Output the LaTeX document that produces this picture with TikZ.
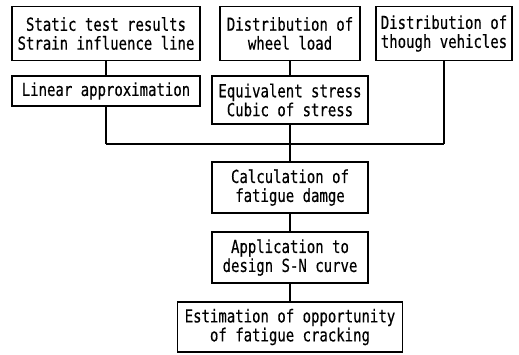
\documentclass[tikz,border=0pt]{standalone}
\usepackage{fontspec}
\setmonofont[FakeStretch=0.78,FakeBold=0.4]{DejaVu Sans Mono}
\begin{document}
\begin{tikzpicture}[x=1bp,y=-1bp,
  box/.style={draw,line width=1.2bp,rectangle,inner sep=0pt,align=center,
    font=\ttfamily\fontsize{18}{19}\selectfont},
  link/.style={line width=1.2bp}]
\useasboundingbox (0,0) rectangle (519,354);
\node[box,minimum width=188bp,minimum height=54bp] (b1) at (106,33.5) {Static test results\\Strain influence line};
\node[box,minimum width=140bp,minimum height=54bp] (b2) at (290,33.5) {Distribution of\\wheel load};
\node[box,minimum width=136bp,minimum height=54bp] (b3) at (444,33.5) {Distribution of\\though vehicles};
\node[box,minimum width=188bp,minimum height=30bp] (b4) at (106,91) {Linear approximation};
\node[box,minimum width=156bp,minimum height=48bp] (b5) at (290,100) {Equivalent stress\\Cubic of stress};
\node[box,minimum width=156bp,minimum height=51bp] (b6) at (290,187.5) {Calculation of\\fatigue damge};
\node[box,minimum width=156bp,minimum height=51bp] (b7) at (290,257.5) {Application to\\design S-N curve};
\node[box,minimum width=225bp,minimum height=50bp] (b8) at (290,327) {Estimation of opportunity\\of fatigue cracking};
\coordinate (j1) at (106,144);
\coordinate (j3) at (444,144);
\draw[link] (b1.south) -- (b4.north);
\draw[link] (b2.south) -- (b5.north);
\draw[link] (b4.south) -- (j1);
\draw[link] (b3.south) -- (j3);
\draw[link] (j1) -- (j3);
\draw[link] (b5.south) -- (b6.north);
\draw[link] (b6.south) -- (b7.north);
\draw[link] (b7.south) -- (b8.north);
\end{tikzpicture}
\end{document}
